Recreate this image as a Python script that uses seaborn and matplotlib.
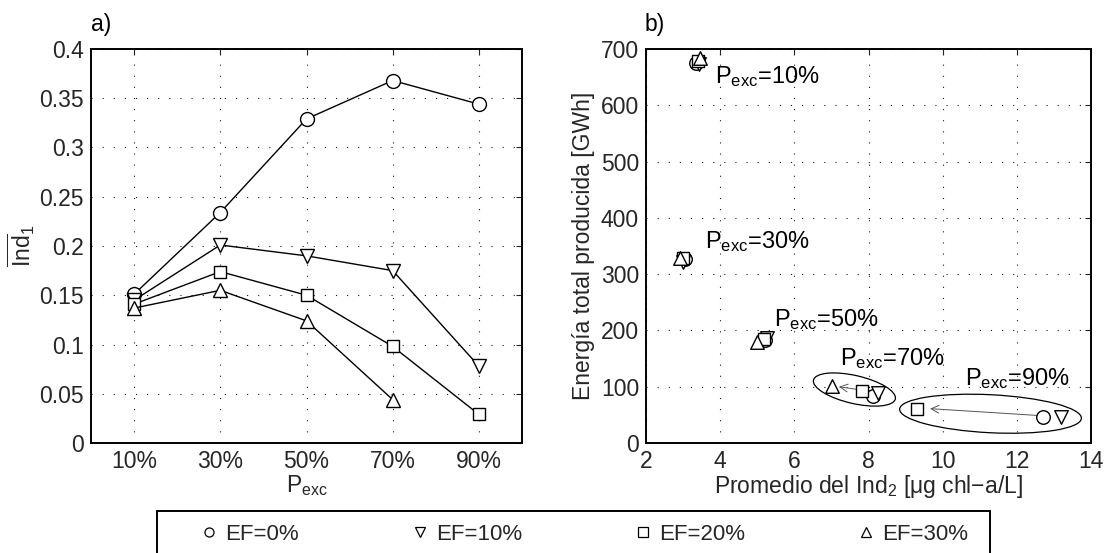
import numpy as np
import pandas as pd
import matplotlib
matplotlib.use("Agg")
import matplotlib.pyplot as plt
from matplotlib.lines import Line2D
from matplotlib.patches import Ellipse, Rectangle
from matplotlib.ticker import FuncFormatter, MultipleLocator
import matplotlib.transforms as mtrans
import seaborn as sns

# ---------------- data ----------------
p_exc_labels = ["10%", "30%", "50%", "70%", "90%"]
ef_labels = ["EF=0%", "EF=10%", "EF=20%", "EF=30%"]
ef_markers = ["o", "v", "s", "^"]

# panel a: mean Ind1 per P_exc
ind1_ef0 = [0.151, 0.234, 0.329, 0.368, 0.344]
ind1_ef10 = [0.145, 0.201, 0.190, 0.175, 0.078]
ind1_ef20 = [0.141, 0.174, 0.150, 0.098, 0.029]
ind1_ef30 = [0.137, 0.155, 0.124, 0.044, np.nan]

# panel b: mean Ind2 vs total energy
ind2_ef0 = [3.35, 3.05, 5.22, 8.12, 12.71]
energy_ef0 = [675, 327, 183, 84, 46]
ind2_ef10 = [3.42, 3.00, 5.26, 8.25, 13.19]
energy_ef10 = [673, 322, 186, 88, 46]
ind2_ef20 = [3.40, 3.00, 5.18, 7.83, 9.31]
energy_ef20 = [678, 328, 185, 92, 60]
ind2_ef30 = [3.45, 2.92, 4.99, 7.02, np.nan]
energy_ef30 = [684, 328, 180, 101, np.nan]

# annotation positions (data coords of text start)
ann_x = [3.86, 3.59, 5.45, 7.23, 10.6]
ann_y = [639, 346, 208, 138, 103]

# arrows (tail -> head) for P=70% and P=90%
arrow_tail = [(7.72, 95), (12.55, 49)]
arrow_head = [(7.20, 100), (9.66, 61)]

# ellipses: centre (data), width/height (pixels), angle (deg)
ell_center = [(7.62, 95), (11.29, 52)]
ell_size_px = [(84, 28), (182, 38)]
ell_angle = [-13, -2.9]

ind1_series = [ind1_ef0, ind1_ef10, ind1_ef20, ind1_ef30]
ind2_series = [ind2_ef0, ind2_ef10, ind2_ef20, ind2_ef30]
energy_series = [energy_ef0, energy_ef10, energy_ef20, energy_ef30]

# ---------------- style ----------------
sns.set_style("white")
plt.rcParams["font.family"] = ["Liberation Sans", "DejaVu Sans"]
plt.rcParams["mathtext.fontset"] = "custom"
plt.rcParams["mathtext.rm"] = "Liberation Sans"
plt.rcParams["mathtext.it"] = "Liberation Sans:italic"
plt.rcParams["mathtext.bf"] = "Liberation Sans:bold"

TXT = "#262626"
FS = 16.5

W, H = 1104, 553
fig = plt.figure(figsize=(W / 100, H / 100), dpi=100)
ax1 = fig.add_axes([91 / W, 1 - 443 / H, (522 - 91) / W, (443 - 49) / H])
ax2 = fig.add_axes([646 / W, 1 - 443 / H, (1091 - 646) / W, (443 - 49) / H])

# ---------------- panel a ----------------
xpos = np.arange(len(p_exc_labels))
for vals, mk in zip(ind1_series, ef_markers):
    df = pd.DataFrame({"x": xpos, "y": vals}).dropna()
    ms = 10 if mk != "s" else 9
    sns.lineplot(data=df, x="x", y="y", ax=ax1, color="black", lw=1.0,
                 marker=mk, markersize=ms, markerfacecolor="white",
                 markeredgecolor="black", markeredgewidth=1.0, zorder=3)

ax1.set_xlim(-0.5, 4.5)
ax1.set_ylim(0, 0.4)
ax1.set_xticks(xpos)
ax1.set_xticklabels(p_exc_labels)
ax1.yaxis.set_major_locator(MultipleLocator(0.05))
ax1.yaxis.set_major_formatter(FuncFormatter(lambda v, p: "%g" % round(v, 3)))
ax1.set_xlabel(r"P$_{\rm exc}$", fontsize=FS, color=TXT, labelpad=0)
ax1.set_ylabel(r"$\overline{\rm Ind}_{1}$", fontsize=FS, color=TXT, labelpad=2)

# ---------------- panel b ----------------
for xs, ys, mk in zip(ind2_series, energy_series, ef_markers):
    df = pd.DataFrame({"x": xs, "y": ys}).dropna()
    s = 95 if mk != "s" else 75
    sns.scatterplot(data=df, x="x", y="y", ax=ax2, marker=mk, s=s,
                    facecolor="white", edgecolor="black", linewidth=1.0,
                    zorder=3)

for (tx, ty), (hx, hy) in zip(arrow_tail, arrow_head):
    ax2.annotate("", xy=(hx, hy), xytext=(tx, ty),
                 arrowprops=dict(arrowstyle="->", color="#555555", lw=0.7,
                                 mutation_scale=14, shrinkA=0, shrinkB=0),
                 zorder=2)

for (cx, cy), (wp, hp), ang in zip(ell_center, ell_size_px, ell_angle):
    tr = fig.dpi_scale_trans + mtrans.ScaledTranslation(cx, cy, ax2.transData)
    e = Ellipse((0, 0), wp / 100, hp / 100, angle=ang, transform=tr,
                fill=False, edgecolor="black", lw=0.9, zorder=2)
    ax2.add_patch(e)

for lab, x, y in zip(p_exc_labels, ann_x, ann_y):
    ax2.text(x, y, r"P$_{\rm exc}$=" + lab, fontsize=17, color="black",
             ha="left", va="baseline", zorder=4)

ax2.set_xlim(2, 14)
ax2.set_ylim(0, 700)
ax2.xaxis.set_major_locator(MultipleLocator(2))
ax2.yaxis.set_major_locator(MultipleLocator(100))
ax2.set_xlabel(r"Promedio del Ind$_2$ [μg chl−a/L]", fontsize=FS, color=TXT,
               labelpad=0)
ax2.set_ylabel("Energía total producida [GWh]", fontsize=FS, color=TXT,
               labelpad=4)

# ---------------- common axes styling ----------------
for ax in (ax1, ax2):
    ax.grid(True, which="major", color="black", linestyle=(0, (1, 9)),
            linewidth=0.8, alpha=0.9)
    ax.set_axisbelow(True)
    for sp in ax.spines.values():
        sp.set_visible(True)
        sp.set_color("black")
        sp.set_linewidth(1.4)
    ax.tick_params(direction="in", length=4, width=0.8, top=True, right=True,
                   labelsize=FS, labelcolor=TXT, pad=5)

fig.text(91 / W, 1 - 31 / H, "a)", fontsize=FS, color="black",
         ha="left", va="baseline")
fig.text(645 / W, 1 - 31 / H, "b)", fontsize=FS, color="black",
         ha="left", va="baseline")

# ---------------- legend ----------------
handles = [Line2D([], [], linestyle="none", marker=mk, markersize=6.5,
                  markerfacecolor="white", markeredgecolor="black",
                  markeredgewidth=0.9) for mk in ef_markers]
leg = fig.legend(handles, ef_labels, loc="center left", ncol=4,
                 bbox_to_anchor=(198 / W, 1 - 534.5 / H), fontsize=16,
                 frameon=False, handlelength=1.0, handletextpad=0.22,
                 columnspacing=4.95, borderpad=0, borderaxespad=0)
for t in leg.get_texts():
    t.set_color(TXT)
# legend box (bottom edge runs off the figure, as in the original)
fig.patches.append(Rectangle((157 / W, -0.05), (990 - 157) / W,
                             0.05 + (553 - 511) / H,
                             transform=fig.transFigure, fill=False,
                             edgecolor="black", lw=1.4))

fig.savefig("out.png", dpi=100)
